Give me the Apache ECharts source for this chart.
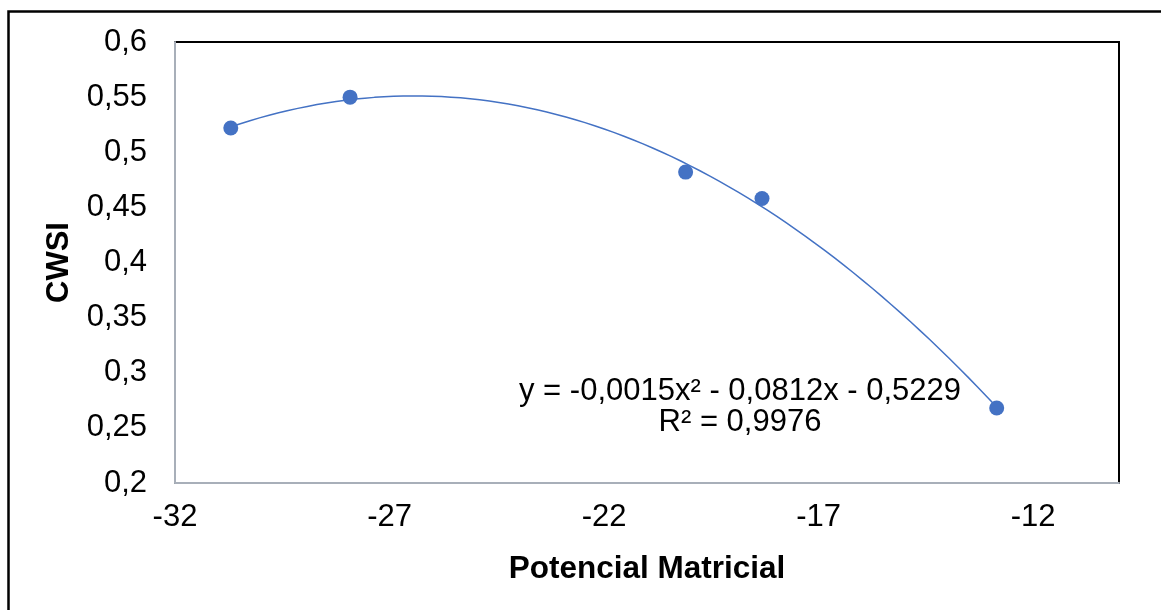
<!DOCTYPE html>
<html>
<head>
<meta charset="utf-8">
<script src="https://cdn.jsdelivr.net/npm/echarts@6/dist/echarts.min.js"></script>
<style>
html,body{margin:0;padding:0;background:#fff;}
#chart{width:1161px;height:610px;}
</style>
</head>
<body>
<div id="chart"></div>
<script>
// Data
const potencialMatricial = [-30.70, -27.92, -20.10, -18.32, -12.85];
const cwsi = [0.522, 0.550, 0.482, 0.458, 0.268];
const equationText = 'y = -0,0015x² - 0,0812x - 0,5229';
const r2Text = 'R² = 0,9976';
const xAxisName = 'Potencial Matricial';
const yAxisName = 'CWSI';

// Polynomial (order 2) least-squares trendline, as the spreadsheet computes it
function quadFit(xs, ys) {
  let S = [0,0,0,0,0], T = [0,0,0];
  for (let i = 0; i < xs.length; i++) {
    let p = 1;
    for (let k = 0; k < 5; k++) { S[k] += p; if (k < 3) T[k] += p * ys[i]; p *= xs[i]; }
  }
  const A = [[S[0],S[1],S[2],T[0]],[S[1],S[2],S[3],T[1]],[S[2],S[3],S[4],T[2]]];
  for (let c = 0; c < 3; c++) {
    for (let r = c + 1; r < 3; r++) {
      const f = A[r][c] / A[c][c];
      for (let k = c; k < 4; k++) A[r][k] -= f * A[c][k];
    }
  }
  const b = [0,0,0];
  for (let r = 2; r >= 0; r--) {
    let s = A[r][3];
    for (let k = r + 1; k < 3; k++) s -= A[r][k] * b[k];
    b[r] = s / A[r][r];
  }
  return b; // c0 + c1 x + c2 x^2
}
const coef = quadFit(potencialMatricial, cwsi);
const xMin = Math.min(...potencialMatricial), xMax = Math.max(...potencialMatricial);
const trend = [];
const N = 80;
for (let i = 0; i <= N; i++) {
  const x = xMin + (xMax - xMin) * i / N;
  trend.push([x, coef[0] + coef[1] * x + coef[2] * x * x]);
}

const font = '"Liberation Sans", Arial, sans-serif';
const FS = 31;
const chart = echarts.init(document.getElementById('chart'), null, {renderer: 'canvas'});
const fmt = v => String(Math.round(v * 100) / 100).replace('.', ',');

chart.setOption({
  animation: false,
  backgroundColor: '#fff',
  grid: {left: 175, top: 42, right: 42, bottom: 127, show: true, borderColor: '#000', borderWidth: 2, backgroundColor: 'transparent'},
  xAxis: {
    type: 'value', min: -32, max: -10, interval: 5,
    name: xAxisName, nameLocation: 'middle', nameGap: 70,
    nameTextStyle: {fontFamily: font, fontSize: 31.5, fontWeight: 'bold', color: '#000'},
    axisLine: {show: true, onZero: false, lineStyle: {color: '#A8AFB9', width: 2}},
    axisTick: {show: false},
    splitLine: {show: false},
    axisLabel: {showMaxLabel: false, fontFamily: font, fontSize: FS, color: '#000', margin: 19, formatter: v => String(v)}
  },
  yAxis: {
    type: 'value', min: 0.2, max: 0.6, interval: 0.05,
    name: yAxisName, nameLocation: 'middle', nameGap: 100, nameRotate: 90,
    nameTextStyle: {fontFamily: font, fontSize: 31, fontWeight: 'bold', color: '#000'},
    axisLine: {show: true, onZero: false, lineStyle: {color: '#A8AFB9', width: 2}},
    axisTick: {show: false},
    splitLine: {show: false},
    axisLabel: {fontFamily: font, fontSize: FS, color: '#000', margin: 28, formatter: fmt}
  },
  series: [
    {
      type: 'line', data: trend, showSymbol: false, symbol: 'none',
      lineStyle: {color: '#4472C4', width: 1.5}, z: 2, silent: true
    },
    {
      type: 'scatter', data: potencialMatricial.map((x, i) => [x, cwsi[i]]),
      symbol: 'circle', symbolSize: 15,
      itemStyle: {color: '#4472C4', opacity: 1}, z: 3
    }
  ],
  graphic: [
    {type: 'rect', left: 6, top: 9, shape: {x: 0, y: 0, width: 1300, height: 800},
     style: {fill: 'none', stroke: '#000', lineWidth: 2.5}, silent: true, z: 100},
    {type: 'text', x: 740, y: 391, style: {text: equationText, font: FS + 'px ' + font, fill: '#000', align: 'center', verticalAlign: 'middle'}, z: 50},
    {type: 'text', x: 740, y: 422, style: {text: r2Text, font: FS + 'px ' + font, fill: '#000', align: 'center', verticalAlign: 'middle'}, z: 50}
  ]
});
</script>
</body>
</html>
